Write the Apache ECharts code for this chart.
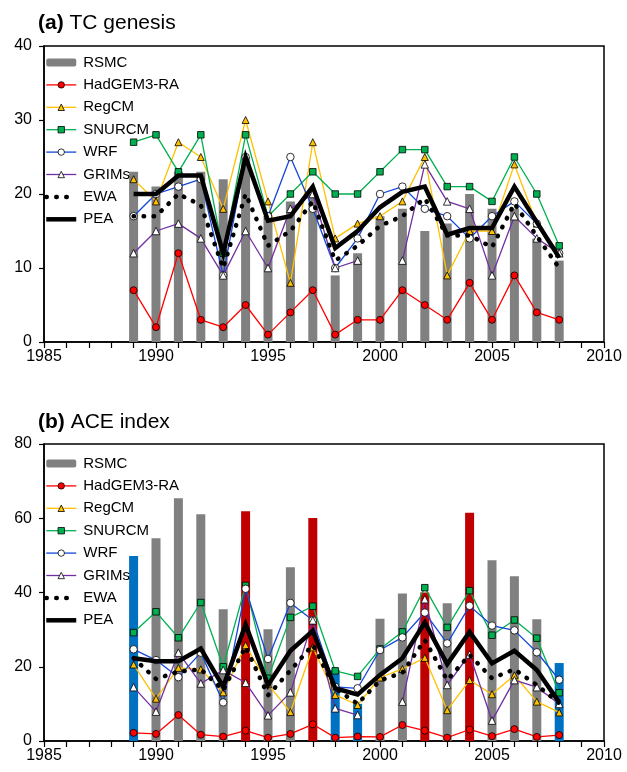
<!DOCTYPE html>
<html>
<head>
<meta charset="utf-8">
<script src="https://cdn.jsdelivr.net/npm/echarts@6/dist/echarts.min.js"></script>
<style>
  html, body { margin: 0; padding: 0; background: #fff; }
  #chart { width: 627px; height: 772px; }
</style>
</head>
<body>
<div id="chart"></div>
<script>
  // years shown in both panels
  var years = [1989, 1990, 1991, 1992, 1993, 1994, 1995, 1996, 1997, 1998,
               1999, 2000, 2001, 2002, 2003, 2004, 2005, 2006, 2007, 2008];

  // (a) TC genesis
  var rsmcTC = [23, 21, 23, 23, 22, 25, 17, 19, 20, 9, 12, 17, 18, 15, 16, 20, 18, 18, 14, 11];
  var hadTC  = [7, 2, 12, 3, 2, 5, 1, 4, 7, 1, 3, 3, 7, 5, 3, 8, 3, 9, 4, 3];
  var regTC  = [22, 19, 27, 25, 18, 30, 19, 8, 27, 14, 16, 17, 19, 25, 9, 15, 15, 24, 16, 12];
  var snuTC  = [27, 28, 23, 28, 12, 28, 17, 20, 23, 20, 20, 23, 26, 26, 21, 21, 19, 25, 20, 13];
  var wrfTC  = [17, 20, 21, 22, 9, 25, 17, 25, 18, 10, 14, 20, 21, 18, 17, 14, 17, 19, 16, 12];
  var grimTC = [12, 15, 16, 14, 9, 15, 10, 18, 20, 10, 11, null, 11, 24, 19, 18, 9, 17, 14, 12];
  var ewaTC  = [17, 17, 20, 18.5, 10, 20, 13, 15, 19, 11, 13, 15.7, 17, 19.4, 14.4, 14.4, 12.8, 18.7, 14.3, 10];
  var peaTC  = [20, 20, 22.5, 22.5, 12, 25, 16.4, 17, 21, 12.7, 15, 18.2, 20.3, 21, 14.5, 15.4, 15.4, 21, 16.2, 11.4];

  // (b) ACE index
  var rsmcACE = [49.8, 54.6, 65.4, 61.1, 35.5, 61.9, 30.1, 46.8, 60.1, 19.1, 10, 32.9, 39.7, 40, 37.1, 61.5, 48.7, 44.4, 32.8, 21];
  var hadACE  = [2.2, 1.9, 7, 1.7, 1.2, 2.8, 0.9, 1.9, 4.5, 0.9, 1.2, 1.1, 4.3, 2.8, 0.9, 3.1, 1.3, 3.2, 1.1, 1.6];
  var regACE  = [20.6, 11.4, 19.7, 19.3, 13.1, 25.8, 15.3, 7.8, 25.2, 12.4, 9.7, 17.1, 19.4, 22.4, 8.3, 16.4, 12.6, 17.7, 10.6, 7.7];
  var snuACE  = [29.2, 34.8, 27.8, 37.3, 20, 41.9, 16.9, 33.3, 36.3, 18.9, 17.4, 24.8, 29.4, 41.3, 30.6, 40.5, 28.5, 32.6, 27.7, 13];
  var wrfACE  = [24.7, 21.8, 17.2, 23.8, 10.4, 41, 22.1, 37.2, 32.5, 14.6, 14.2, 24.5, 27.9, 34.6, 26.3, 36.4, 31.1, 29.8, 23.9, 16.5];
  var grimACE = [14.5, 7.9, 23.8, 15.5, 19.1, 15.7, 6.9, 13.1, 32.5, 8.8, 7, null, 10.6, 38.2, 15.1, 23.3, 5.5, 16.4, 14.5, 10];
  var ewaACE  = [22.3, 16.7, 18.7, 19.3, 13.7, 25.4, 12.3, 19, 25.9, 14.2, 10, 16.3, 18.4, 27.2, 16.4, 23.2, 16.9, 19.3, 15.1, 10.2];
  var peaACE  = [22.3, 21.5, 21.5, 24.9, 14.6, 31.4, 15.1, 24.3, 29.7, 14.2, 12.5, 17.8, 22.3, 31.9, 20.7, 29.4, 20.9, 24.3, 19.1, 10.4];

  // years with high (red) and low (blue) ACE bars
  var highYears = [1994, 1997, 2002, 2004];
  var lowYears  = [1989, 1998, 1999, 2008];

  var yTicksTC  = { min: 0, max: 40, interval: 10 };
  var yTicksACE = { min: 0, max: 80, interval: 20 };

  var font = 'Liberation Sans, Arial, sans-serif';
  var names = ['RSMC', 'HadGEM3-RA', 'RegCM', 'SNURCM', 'WRF', 'GRIMs', 'EWA', 'PEA'];

  function pairs(vals) {
    return years.map(function (y, i) { return [y, vals[i]]; });
  }

  function xAxis(gi) {
    return {
      type: 'value', gridIndex: gi, min: 1985, max: 2010, interval: 5,
      axisLine: { lineStyle: { color: '#000', width: 1.5 } },
      axisTick: { inside: false, length: 6, lineStyle: { color: '#000', width: 1.2 } },
      minorTick: { show: true, splitNumber: 5, length: 6, lineStyle: { color: '#000', width: 1.2 } },
      splitLine: { show: false },
      axisLabel: { fontSize: 16, color: '#000', fontFamily: font, margin: 7,
                   formatter: function (v) { return String(v); } }
    };
  }

  function yAxis(gi, t) {
    return {
      type: 'value', gridIndex: gi, min: t.min, max: t.max, interval: t.interval,
      axisLine: { show: true, lineStyle: { color: '#000', width: 1.5 } },
      axisTick: { show: true, inside: false, length: 5, lineStyle: { color: '#000', width: 1.2 } },
      splitLine: { show: false },
      axisLabel: { fontSize: 16, color: '#000', fontFamily: font, margin: 12 }
    };
  }

  function model(name, vals, gi, color, symbol, fill, size) {
    return {
      name: name, type: 'line', xAxisIndex: gi, yAxisIndex: gi,
      data: pairs(vals), connectNulls: false,
      symbol: symbol, symbolSize: size,
      lineStyle: { color: color, width: 1.3 },
      itemStyle: { color: fill, borderColor: '#000', borderWidth: 0.8 },
      z: 3
    };
  }

  function ensemble(name, vals, gi, dotted) {
    return {
      name: name, type: 'line', xAxisIndex: gi, yAxisIndex: gi,
      data: pairs(vals), symbol: 'circle', showSymbol: false,
      lineStyle: dotted
        ? { color: '#000', width: 4.5, type: [0.5, 9.5], cap: 'round' }
        : { color: '#000', width: 4.5, join: 'miter' },
      itemStyle: { color: '#000', opacity: 0 },
      z: 4
    };
  }

  function panelSeries(gi, rsmc, had, reg, snu, wrf, grim, ewa, pea, coloured) {
    var barData = years.map(function (y, i) {
      var item = { value: [y, rsmc[i]] };
      if (coloured && highYears.indexOf(y) >= 0) item.itemStyle = { color: '#C00000' };
      if (coloured && lowYears.indexOf(y) >= 0) item.itemStyle = { color: '#0070C0' };
      return item;
    });
    return [
      { name: 'RSMC', type: 'bar', xAxisIndex: gi, yAxisIndex: gi, barWidth: 9,
        itemStyle: { color: '#808080' }, data: barData, z: 2 },
      model('HadGEM3-RA', had, gi, '#FF0000', 'circle', '#FF0000', 7),
      model('RegCM', reg, gi, '#FFC000', 'triangle', '#FFC000', 7),
      model('SNURCM', snu, gi, '#00B050', 'rect', '#00B050', 6.5),
      model('WRF', wrf, gi, '#1347D8', 'circle', '#fff', 7.5),
      model('GRIMs', grim, gi, '#7030A0', 'triangle', '#fff', 7.5),
      ensemble('EWA', ewa, gi, true),
      ensemble('PEA', pea, gi, false)
    ];
  }

  function legend(top) {
    return {
      data: names, orient: 'vertical', left: 44, top: top,
      itemWidth: 30, itemHeight: 8, itemGap: 7.4, padding: 0,
      selectedMode: false,
      textStyle: { fontSize: 15, color: '#000', fontFamily: font, padding: [0, 0, 0, 2] },
      lineStyle: { width: 'inherit' },
      itemStyle: { borderWidth: 'inherit' }
    };
  }

  function title(tag, text, top) {
    return {
      text: '{b|' + tag + '} ' + text, left: 38, top: top, padding: 0,
      textStyle: {
        fontSize: 21, fontWeight: 'normal', color: '#000', fontFamily: font,
        rich: { b: { fontSize: 21, fontWeight: 'bold', color: '#000', fontFamily: font } }
      }
    };
  }

  var chart = echarts.init(document.getElementById('chart'));
  chart.setOption({
    animation: false,
    backgroundColor: '#fff',
    title: [title('(a)', 'TC genesis', 13), title('(b)', 'ACE index', 412)],
    legend: [legend(55), legend(456)],
    grid: [
      { left: 44, top: 46, width: 560, height: 296, show: true, borderColor: '#000', borderWidth: 1.5 },
      { left: 44, top: 444, width: 560, height: 297, show: true, borderColor: '#000', borderWidth: 1.5 }
    ],
    xAxis: [xAxis(0), xAxis(1)],
    yAxis: [yAxis(0, yTicksTC), yAxis(1, yTicksACE)],
    series: panelSeries(0, rsmcTC, hadTC, regTC, snuTC, wrfTC, grimTC, ewaTC, peaTC, false)
      .concat(panelSeries(1, rsmcACE, hadACE, regACE, snuACE, wrfACE, grimACE, ewaACE, peaACE, true))
  });
</script>
</body>
</html>
